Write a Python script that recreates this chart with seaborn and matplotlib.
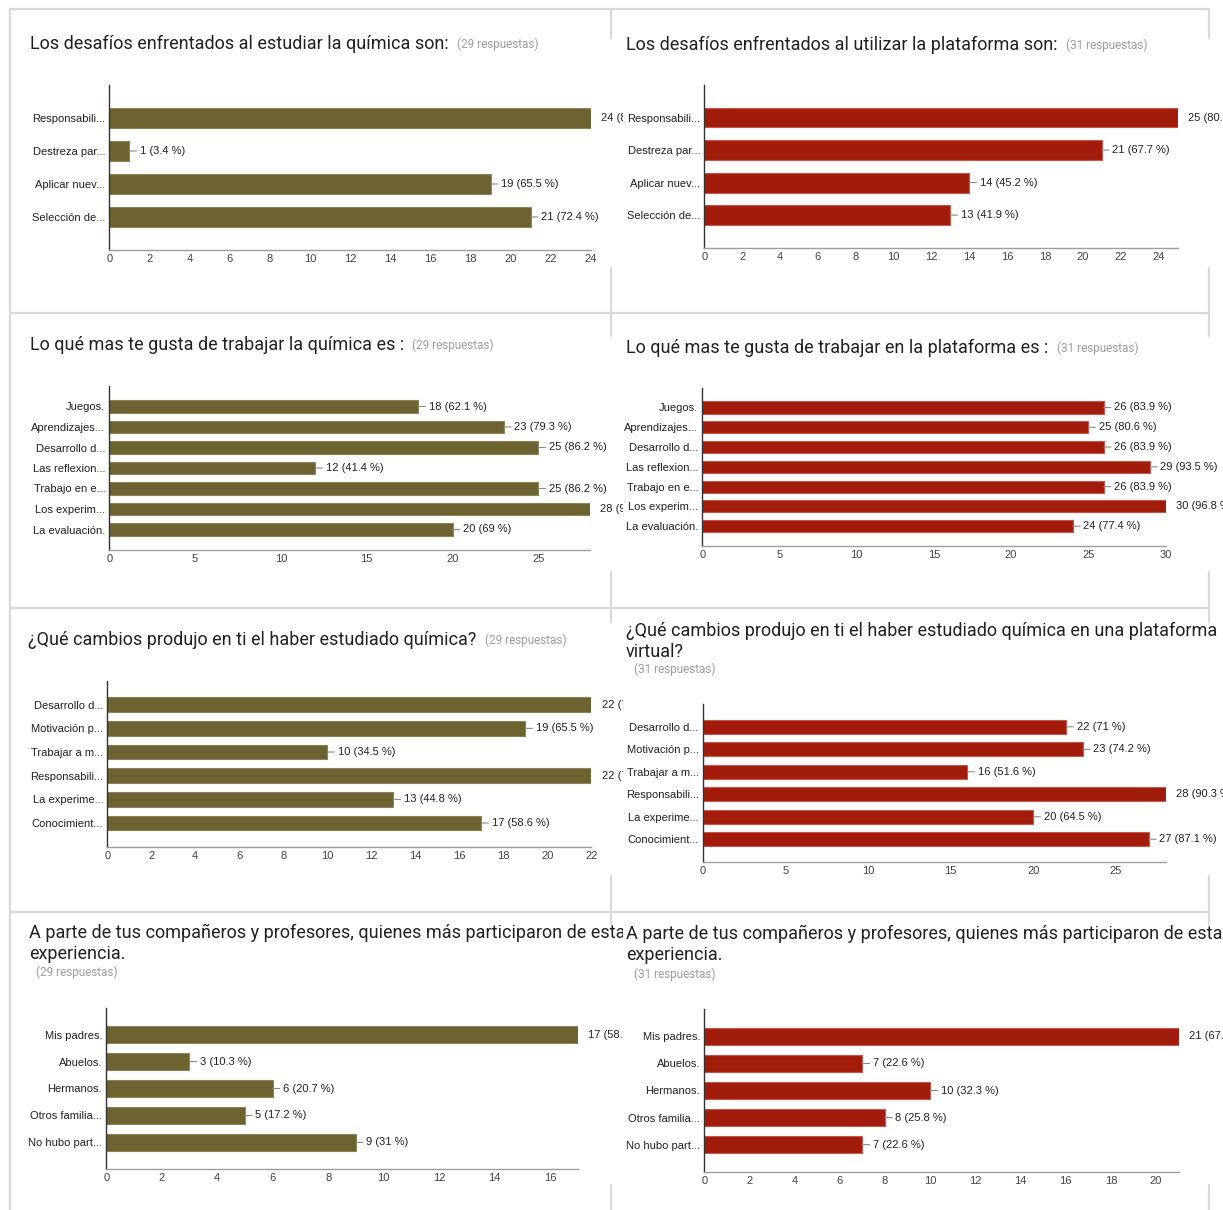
import matplotlib
matplotlib.use("Agg")
import matplotlib.pyplot as plt
import seaborn as sns
import pandas as pd
from matplotlib.lines import Line2D
from matplotlib.transforms import Bbox, TransformedBbox

# ---------------- data ----------------
cats_desafios = ["Responsabili...", "Destreza par...", "Aplicar nuev...", "Selección de..."]
vals_desafios_quim = [24, 1, 19, 21]
pct_desafios_quim = ["82.8", "3.4", "65.5", "72.4"]
vals_desafios_plat = [25, 21, 14, 13]
pct_desafios_plat = ["80.6", "67.7", "45.2", "41.9"]

cats_gusta = ["Juegos.", "Aprendizajes...", "Desarrollo d...", "Las reflexion...",
              "Trabajo en e...", "Los experim...", "La evaluación."]
vals_gusta_quim = [18, 23, 25, 12, 25, 28, 20]
pct_gusta_quim = ["62.1", "79.3", "86.2", "41.4", "86.2", "96.6", "69"]
vals_gusta_plat = [26, 25, 26, 29, 26, 30, 24]
pct_gusta_plat = ["83.9", "80.6", "83.9", "93.5", "83.9", "96.8", "77.4"]

cats_cambios = ["Desarrollo d...", "Motivación p...", "Trabajar a m...", "Responsabili...",
                "La experime...", "Conocimient..."]
vals_cambios_quim = [22, 19, 10, 22, 13, 17]
pct_cambios_quim = ["75.9", "65.5", "34.5", "75.9", "44.8", "58.6"]
vals_cambios_plat = [22, 23, 16, 28, 20, 27]
pct_cambios_plat = ["71", "74.2", "51.6", "90.3", "64.5", "87.1"]

cats_partic = ["Mis padres.", "Abuelos.", "Hermanos.", "Otros familia...", "No hubo part..."]
vals_partic_quim = [17, 3, 6, 5, 9]
pct_partic_quim = ["58.6", "10.3", "20.7", "17.2", "31"]
vals_partic_plat = [21, 7, 10, 8, 7]
pct_partic_plat = ["67.7", "22.6", "32.3", "25.8", "22.6"]

titles = [
    ["Los desafíos enfrentados al estudiar la química son:"],
    ["Los desafíos enfrentados al utilizar la plataforma son:"],
    ["Lo qué mas te gusta de trabajar la química es :"],
    ["Lo qué mas te gusta de trabajar en la plataforma es :"],
    ["¿Qué cambios produjo en ti el haber estudiado química?"],
    ["¿Qué cambios produjo en ti el haber estudiado química en una plataforma", "virtual?"],
    ["A parte de tus compañeros y profesores, quienes más participaron de esta", "experiencia."],
    ["A parte de tus compañeros y profesores, quienes más participaron de esta", "experiencia."],
]
respuestas = ["(29 respuestas)", "(31 respuestas)"] * 4
xticks_list = [list(range(0, 25, 2)), list(range(0, 25, 2)), list(range(0, 26, 5)),
               list(range(0, 31, 5)), list(range(0, 23, 2)), list(range(0, 26, 5)),
               list(range(0, 17, 2)), list(range(0, 21, 2))]

# ---------------- style ----------------
W, H = 1223, 1210
sns.set_style("white")
plt.rcParams['font.family'] = ['Liberation Sans', 'DejaVu Sans']
TITLE_FONT = ['Roboto', 'DejaVu Sans']
SMALL = 8

OLIVE, OLIVE_EDGE = "#6c6330", "#8c855c"
RED, RED_EDGE = "#a21c0b", "#c4574a"

panels = [
    (cats_desafios, vals_desafios_quim, pct_desafios_quim, OLIVE, OLIVE_EDGE),
    (cats_desafios, vals_desafios_plat, pct_desafios_plat, RED, RED_EDGE),
    (cats_gusta, vals_gusta_quim, pct_gusta_quim, OLIVE, OLIVE_EDGE),
    (cats_gusta, vals_gusta_plat, pct_gusta_plat, RED, RED_EDGE),
    (cats_cambios, vals_cambios_quim, pct_cambios_quim, OLIVE, OLIVE_EDGE),
    (cats_cambios, vals_cambios_plat, pct_cambios_plat, RED, RED_EDGE),
    (cats_partic, vals_partic_quim, pct_partic_quim, OLIVE, OLIVE_EDGE),
    (cats_partic, vals_partic_plat, pct_partic_plat, RED, RED_EDGE),
]

# axes geometry in pixels: x0, x1, top, bottom
geoms = [
    (109.3, 591.0, 85.0, 250.0),
    (704.2, 1177.6, 85.0, 247.7),
    (109.3, 589.8, 386.0, 550.0),
    (702.3, 1165.5, 387.7, 546.0),
    (107.3, 591.3, 681.0, 846.7),
    (703.0, 1165.5, 704.3, 861.7),
    (106.2, 578.0, 1007.7, 1169.3),
    (704.2, 1178.7, 1009.3, 1171.7),
]
# title positions: x, y of first line, line spacing, respuestas position (None -> inline)
title_pos = [
    (30, 44, 0, None),
    (626, 45, 0, None),
    (30, 345, 0, None),
    (626, 348, 0, None),
    (28, 640, 0, None),
    (626, 631, 21, (633.5, 669)),
    (29, 933, 21, (36, 972)),
    (626, 934, 21, (633.5, 974)),
]

fig = plt.figure(figsize=(W / 100, H / 100), dpi=100)
fig.patch.set_facecolor("white")

# panel card borders
BORDER = "#d9d9d9"
def hline(y, xa, xb):
    fig.add_artist(Line2D([xa / W, xb / W], [1 - y / H, 1 - y / H], color=BORDER,
                          lw=1.6, transform=fig.transFigure))
def vline(x, ya, yb):
    fig.add_artist(Line2D([x / W, x / W], [1 - ya / H, 1 - yb / H], color=BORDER,
                          lw=1.6, transform=fig.transFigure))

for y in (9, 313, 608, 912):
    hline(y, 10, 1209)
vline(10, 9, 1210)
for x in (611, 1209):
    for ya, yb in ((9, 38), (268, 336), (572, 622), (876, 925), (1185, 1210)):
        vline(x, ya, yb)

clip_left = TransformedBbox(Bbox.from_extents(0, 0, 623 / W, 1), fig.transFigure)
clip_right = TransformedBbox(Bbox.from_extents(0, 0, 1, 1), fig.transFigure)

for k, ((cats, vals, pcts, color, edge), (x0, x1, top, bot)) in enumerate(zip(panels, geoms)):
    clipbox = clip_left if k % 2 == 0 else clip_right
    ax = fig.add_axes([x0 / W, 1 - bot / H, (x1 - x0) / W, (bot - top) / H])
    df = pd.DataFrame({"cat": cats, "val": vals})
    sns.barplot(data=df, x="val", y="cat", ax=ax, color=color, orient="h",
                width=0.61, saturation=1, edgecolor=edge, linewidth=0.8)
    n = len(cats)
    xmax = max(vals)
    ax.set_xlim(0, xmax)
    ax.set_ylim(n, -1)
    ax.set_xlabel("")
    ax.set_ylabel("")
    ax.set_xticks(xticks_list[k])
    ax.tick_params(axis="x", length=0, pad=3, labelsize=SMALL, labelcolor="#444444")
    ax.tick_params(axis="y", length=0, pad=3, labelsize=SMALL, labelcolor="#222222")
    for s in ("top", "right"):
        ax.spines[s].set_visible(False)
    ax.spines["left"].set_color("#333333")
    ax.spines["left"].set_linewidth(1.0)
    ax.spines["bottom"].set_color("#9e9e9e")
    ax.spines["bottom"].set_linewidth(1.0)
    ax.patch.set_alpha(0)

    for i, (v, p) in enumerate(zip(vals, pcts)):
        txt = f"{v} ({p} %)"
        kw = dict(xy=(v, i), xytext=(7.5, 0), textcoords="offset points",
                  va="center", ha="left", fontsize=SMALL, color="#222222",
                  annotation_clip=False)
        if v < xmax:
            kw["arrowprops"] = dict(arrowstyle="-", color="#8a8a8a", lw=0.8,
                                    shrinkA=0, shrinkB=0, relpos=(0, 0.5))
        a = ax.annotate(txt, **kw)
        a.set_clip_box(clipbox)
        a.set_clip_on(True)

    # titles
    tx, ty, dy, rpos = title_pos[k]
    last = None
    for j, line in enumerate(titles[k]):
        t = fig.text(tx / W, 1 - (ty + j * dy) / H, line, fontsize=13, color="#212121",
                     family=TITLE_FONT, va="center", ha="left")
        t.set_clip_box(clipbox)
        t.set_clip_on(True)
        last = t
    if rpos is None:
        r = ax.annotate(respuestas[k], xy=(1, 0.5), xycoords=last, xytext=(6, 0),
                        textcoords="offset points", va="center", ha="left",
                        fontsize=8.5, color="#9e9e9e", family=TITLE_FONT,
                        annotation_clip=False)
    else:
        r = fig.text(rpos[0] / W, 1 - rpos[1] / H, respuestas[k], fontsize=8.5,
                     color="#9e9e9e", family=TITLE_FONT, va="center", ha="left")
    r.set_clip_box(clipbox)
    r.set_clip_on(True)

fig.savefig("out.png", dpi=100)
